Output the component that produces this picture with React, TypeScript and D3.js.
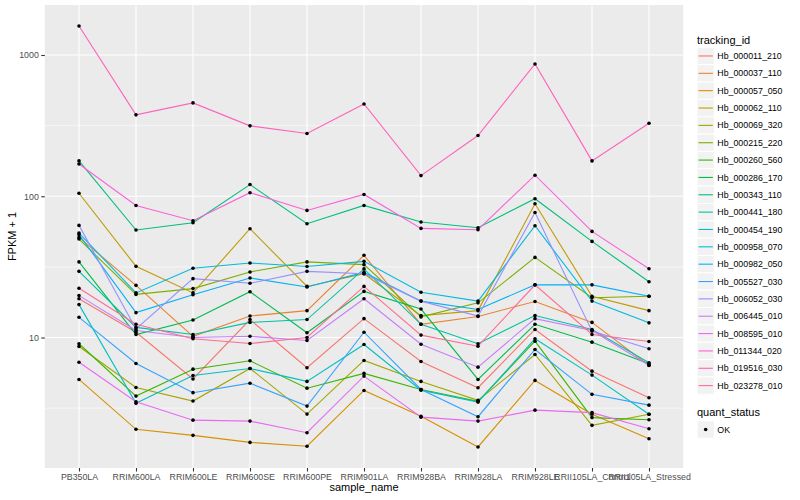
import * as d3 from "d3";
import { useEffect, useRef } from "react";

// samples on the x axis
const sampleNames = [
    "PB350LA",
    "RRIM600LA",
    "RRIM600LE",
    "RRIM600SE",
    "RRIM600PE",
    "RRIM901LA",
    "RRIM928BA",
    "RRIM928LA",
    "RRIM928LE",
    "RRII105LA_Control",
    "RRII105LA_Stressed",
];

const trackingIds = [
    "Hb_000011_210",
    "Hb_000037_110",
    "Hb_000057_050",
    "Hb_000062_110",
    "Hb_000069_320",
    "Hb_000215_220",
    "Hb_000260_560",
    "Hb_000286_170",
    "Hb_000343_110",
    "Hb_000441_180",
    "Hb_000454_190",
    "Hb_000958_070",
    "Hb_000982_050",
    "Hb_005527_030",
    "Hb_006052_030",
    "Hb_006445_010",
    "Hb_008595_010",
    "Hb_011344_020",
    "Hb_019516_030",
    "Hb_023278_010",
];

// FPKM + 1, one array per gene, same order as sampleNames
const hb000011_210 = [18.8, 10.9, 5.09, 13.4, 6.11, 13.6, 6.77, 4.41, 11.4, 5.78, 3.75];
const hb000037_110 = [51.1, 23.4, 10.2, 14.2, 15.5, 38.2, 12.4, 14.1, 18.0, 12.8, 6.34];
const hb000057_050 = [5.05, 2.24, 2.03, 1.81, 1.7, 4.22, 2.77, 1.68, 4.97, 2.86, 1.92];
const hb000062_110 = [105, 31.9, 20.7, 58.9, 23.0, 28.3, 14.3, 15.5, 88.5, 19.6, 15.5];
const hb000069_320 = [8.64, 4.43, 3.55, 6.04, 2.87, 6.88, 4.89, 3.59, 7.58, 2.39, 2.86];
const hb000215_220 = [49.8, 20.2, 22.2, 29.1, 34.3, 32.8, 14.0, 17.6, 36.9, 19.1, 19.6];
const hb000260_560 = [9.03, 3.85, 5.97, 6.84, 4.38, 5.57, 4.29, 3.53, 9.42, 2.71, 2.62];
const hb000286_170 = [34.3, 10.5, 13.3, 21.1, 10.8, 21.2, 15.9, 5.05, 12.4, 9.27, 6.52];
const hb000343_110 = [178, 57.7, 65, 121, 63.9, 86.1, 65.7, 59.9, 96.0, 47.9, 24.8];
const hb000441_180 = [29.4, 11.8, 10.5, 12.8, 13.4, 30.6, 12.4, 9.03, 14.3, 11.4, 6.62];
const hb000454_190 = [17.1, 3.42, 5.39, 6.04, 4.89, 8.92, 4.24, 3.49, 9.79, 5.42, 2.86];
const hb000958_070 = [54.9, 20.7, 30.9, 33.7, 31.8, 34.6, 20.9, 18.1, 61.9, 18.1, 12.7];
const hb000982_050 = [53.5, 15.0, 20.1, 26.4, 22.8, 28.9, 18.1, 15.8, 23.6, 23.6, 19.6];
const hb005527_030 = [13.9, 6.55, 4.07, 4.75, 3.27, 10.9, 4.29, 2.75, 8.23, 3.96, 3.32];
const hb006052_030 = [62.2, 11.5, 26.1, 24.2, 29.4, 28.3, 18.1, 14.2, 76.8, 11.1, 8.32];
const hb006445_010 = [19.8, 11.2, 10.0, 10.2, 9.52, 18.8, 8.97, 6.17, 13.6, 11.2, 6.37];
const hb008595_010 = [6.69, 3.51, 2.6, 2.56, 2.12, 5.33, 2.73, 2.56, 3.06, 2.94, 2.26];
const hb011344_020 = [169, 86.1, 67.1, 106, 79.4, 103, 59.2, 58.0, 141, 56.4, 30.7];
const hb019516_030 = [1603, 377, 458, 315, 278, 450, 140, 269, 864, 178, 329];
const hb023278_010 = [22.3, 12.4, 9.79, 9.07, 10.0, 23.0, 10.4, 8.68, 23.6, 10.5, 9.37];

const seriesValues = [
    hb000011_210, hb000037_110, hb000057_050, hb000062_110, hb000069_320,
    hb000215_220, hb000260_560, hb000286_170, hb000343_110, hb000441_180,
    hb000454_190, hb000958_070, hb000982_050, hb005527_030, hb006052_030,
    hb006445_010, hb008595_010, hb011344_020, hb019516_030, hb023278_010,
];

const yTicks = [10, 100, 1000];
const quantStatus = ["OK"];

// ggplot2 default hue palette for 20 levels
const huePalette = [
    "#F8766D", "#EA8331", "#D89000", "#C09B00", "#A3A500",
    "#7CAE00", "#39B600", "#00BB4E", "#00BF7D", "#00C1A3",
    "#00BFC4", "#00BAE0", "#00B0F6", "#35A2FF", "#9590FF",
    "#C77CFF", "#E76BF3", "#FA62DB", "#FF62BC", "#FF6C91",
];

const svgWidth = 800;
const svgHeight = 500;
const panelLeft = 44.8;
const panelRight = 683.2;
const panelTop = 5;
const panelBottom = 468;
const fontFamily = "'Liberation Sans', Arial, Helvetica, sans-serif";

export default function App() {
    const svgRef = useRef<SVGSVGElement>(null);

    useEffect(() => {
        if (svgRef.current) {
            drawChart();
        }
    }, [svgRef]);

    const drawChart = () => {
        const svg = d3.select(svgRef.current);
        svg.selectAll("*").remove();

        // x is discrete with ggplot's 0.6 expansion, y is log10 with 5% expansion
        const scaleX = d3.scalePoint<string>().domain(sampleNames).range([panelLeft, panelRight]).padding(0.6);
        const allValues = seriesValues.flat();
        const logMin = Math.log10(d3.min(allValues) as number);
        const logMax = Math.log10(d3.max(allValues) as number);
        const pad = (logMax - logMin) * 0.05;
        const scaleY = d3
            .scaleLog()
            .domain([Math.pow(10, logMin - pad), Math.pow(10, logMax + pad)])
            .range([panelBottom, panelTop]);

        // panel background
        svg.append("rect")
            .attr("x", panelLeft)
            .attr("y", panelTop)
            .attr("width", panelRight - panelLeft)
            .attr("height", panelBottom - panelTop)
            .attr("fill", "#EBEBEB");

        // minor grid halfway between decades
        const minorTicks = yTicks.map((t) => t / Math.sqrt(10));
        svg.append("g")
            .selectAll("line")
            .data(minorTicks)
            .join("line")
            .attr("x1", panelLeft)
            .attr("x2", panelRight)
            .attr("y1", (d) => scaleY(d))
            .attr("y2", (d) => scaleY(d))
            .attr("stroke", "white")
            .attr("stroke-width", 0.55);

        svg.append("g")
            .selectAll("line")
            .data(yTicks)
            .join("line")
            .attr("x1", panelLeft)
            .attr("x2", panelRight)
            .attr("y1", (d) => scaleY(d))
            .attr("y2", (d) => scaleY(d))
            .attr("stroke", "white")
            .attr("stroke-width", 1.1);

        svg.append("g")
            .selectAll("line")
            .data(sampleNames)
            .join("line")
            .attr("x1", (d) => scaleX(d) as number)
            .attr("x2", (d) => scaleX(d) as number)
            .attr("y1", panelTop)
            .attr("y2", panelBottom)
            .attr("stroke", "white")
            .attr("stroke-width", 1.1);

        // lines, one per gene
        const line = d3
            .line<number>()
            .x((d, i) => scaleX(sampleNames[i]) as number)
            .y((d) => scaleY(d));
        svg.append("g")
            .selectAll("path")
            .data(seriesValues)
            .join("path")
            .attr("d", (d) => line(d))
            .attr("fill", "none")
            .attr("stroke", (d, i) => huePalette[i])
            .attr("stroke-width", 1.1);

        // points on top
        const points = seriesValues.flatMap((values) => values.map((v, i) => ({ sample: sampleNames[i], v })));
        svg.append("g")
            .selectAll("circle")
            .data(points)
            .join("circle")
            .attr("cx", (d) => scaleX(d.sample) as number)
            .attr("cy", (d) => scaleY(d.v))
            .attr("r", 1.8)
            .attr("fill", "black");

        // y axis
        const yAxis = svg
            .append("g")
            .attr("transform", "translate(" + panelLeft + ",0)")
            .call(d3.axisLeft(scaleY).tickValues(yTicks).tickFormat(d3.format("d")).tickSize(3.5).tickPadding(2.5));
        yAxis.select(".domain").remove();
        yAxis.selectAll("line").attr("stroke", "#333333").attr("stroke-width", 1.1);
        yAxis.selectAll("text").attr("fill", "#4D4D4D").attr("font-size", 8.8).attr("font-family", fontFamily);

        // x axis
        const xAxis = svg
            .append("g")
            .attr("transform", "translate(0," + panelBottom + ")")
            .call(d3.axisBottom(scaleX).tickSize(3.5).tickPadding(2.5));
        xAxis.select(".domain").remove();
        xAxis.selectAll("line").attr("stroke", "#333333").attr("stroke-width", 1.1);
        xAxis.selectAll("text").attr("fill", "#4D4D4D").attr("font-size", 8.8).attr("font-family", fontFamily);

        // axis titles
        svg.append("text")
            .attr("x", (panelLeft + panelRight) / 2)
            .attr("y", 491)
            .attr("text-anchor", "middle")
            .attr("font-size", 11)
            .attr("font-family", fontFamily)
            .text("sample_name");
        svg.append("text")
            .attr("transform", "translate(16," + (panelTop + panelBottom) / 2 + ") rotate(-90)")
            .attr("text-anchor", "middle")
            .attr("font-size", 11)
            .attr("font-family", fontFamily)
            .text("FPKM + 1");

        // legend: tracking_id
        const legendX = 697;
        const keySize = 17.35;
        const legend = svg.append("g").attr("font-family", fontFamily);
        legend.append("text").attr("x", legendX).attr("y", 44).attr("font-size", 11).text("tracking_id");
        const firstKeyTop = 47.3;
        const keys = legend
            .selectAll("g.key")
            .data(trackingIds)
            .join("g")
            .classed("key", true)
            .attr("transform", (d, i) => "translate(" + legendX + "," + (firstKeyTop + i * keySize) + ")");
        keys.append("rect")
            .attr("width", keySize)
            .attr("height", keySize)
            .attr("fill", "#F2F2F2")
            .attr("stroke", "white")
            .attr("stroke-width", 1);
        keys.append("line")
            .attr("x1", 1.5)
            .attr("x2", keySize - 1.5)
            .attr("y1", keySize / 2)
            .attr("y2", keySize / 2)
            .attr("stroke", (d, i) => huePalette[i])
            .attr("stroke-width", 1.1);
        keys.append("text")
            .attr("x", keySize + 3)
            .attr("y", keySize / 2 + 3.1)
            .attr("font-size", 8.8)
            .text((d) => d);

        // legend: quant_status
        legend.append("text").attr("x", legendX).attr("y", 416).attr("font-size", 11).text("quant_status");
        const statusKeys = legend
            .selectAll("g.status")
            .data(quantStatus)
            .join("g")
            .classed("status", true)
            .attr("transform", (d, i) => "translate(" + legendX + "," + (420.8 + i * keySize) + ")");
        statusKeys.append("rect")
            .attr("width", keySize)
            .attr("height", keySize)
            .attr("fill", "#F2F2F2")
            .attr("stroke", "white");
        statusKeys.append("circle")
            .attr("cx", keySize / 2)
            .attr("cy", keySize / 2)
            .attr("r", 1.8)
            .attr("fill", "black");
        statusKeys.append("text")
            .attr("x", keySize + 3)
            .attr("y", keySize / 2 + 3.1)
            .attr("font-size", 8.8)
            .text((d) => d);
    };

    return (
        <svg
            ref={svgRef}
            width={svgWidth}
            height={svgHeight}
            style={{ position: "absolute", left: 0, top: 0, background: "white" }}
        />
    );
}
